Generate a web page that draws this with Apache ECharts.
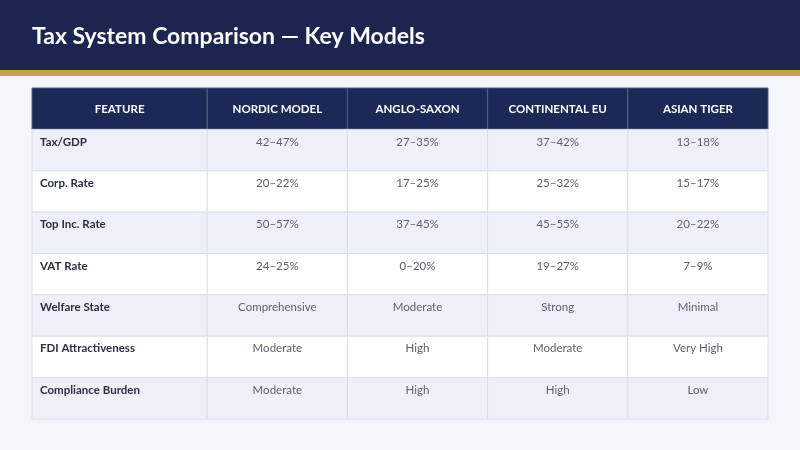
<!DOCTYPE html>
<html>
<head>
<meta charset="utf-8">
<script src="https://cdn.jsdelivr.net/npm/echarts@6/dist/echarts.min.js"></script>
<style>
  html, body { margin: 0; padding: 0; background: #f4f4fb; }
  #chart { width: 800px; height: 450px; }
</style>
</head>
<body>
<div id="chart"></div>
<script>
// table content
var columns = ['FEATURE', 'NORDIC MODEL', 'ANGLO-SAXON', 'CONTINENTAL EU', 'ASIAN TIGER'];
var features = ['Tax/GDP', 'Corp. Rate', 'Top Inc. Rate', 'VAT Rate', 'Welfare State', 'FDI Attractiveness', 'Compliance Burden'];
var nordic = ['42–47%', '20–22%', '50–57%', '24–25%', 'Comprehensive', 'Moderate', 'Moderate'];
var angloSaxon = ['27–35%', '17–25%', '37–45%', '0–20%', 'Moderate', 'High', 'High'];
var continental = ['37–42%', '25–32%', '45–55%', '19–27%', 'Strong', 'Moderate', 'High'];
var asianTiger = ['13–18%', '15–17%', '20–22%', '7–9%', 'Minimal', 'Very High', 'Low'];

var FONT = 'Lato, "Open Sans", sans-serif';
// column edges in x-axis units (first column is a bit wider)
var colEdges = [0, 1.25, 2.25, 3.25, 4.25, 5.25];

var bodyCols = [features, nordic, angloSaxon, continental, asianTiger];
var rows = ['header'].concat(features);

var cells = [];
columns.forEach(function (name, c) {
    cells.push([c, 0, name]);
});
bodyCols.forEach(function (list, c) {
    list.forEach(function (txt, r) {
        cells.push([c, r + 1, txt]);
    });
});

function renderCell(params, api) {
    var cell = cells[params.dataIndex];
    var c = cell[0], r = cell[1];
    var x0 = api.coord([colEdges[c], r])[0];
    var x1 = api.coord([colEdges[c + 1], r])[0];
    var yc = api.coord([0, r])[1];
    var h = api.size([0, 1])[1];
    var y0 = yc - h / 2;
    var isHead = r === 0;

    var fill = isHead ? '#1c2856' : (r % 2 === 1 ? '#eef0f9' : '#ffffff');
    var stroke = isHead ? '#56607f' : '#dddee7';

    var text;
    if (isHead) {
        text = {
            type: 'text',
            style: {
                x: (x0 + x1) / 2, y: yc + 1,
                text: cell[2],
                fill: '#ffffff',
                font: 'bold 11.5px ' + FONT,
                align: 'center', verticalAlign: 'middle'
            }
        };
    } else {
        text = {
            type: 'text',
            style: {
                x: c === 0 ? x0 + 8 : (x0 + x1) / 2,
                y: y0 + 6.5,
                text: cell[2],
                fill: c === 0 ? '#2b2f43' : '#5b5f6f',
                font: (c === 0 ? 'bold ' : '') + '11.5px ' + FONT,
                align: c === 0 ? 'left' : 'center',
                verticalAlign: 'top'
            }
        };
    }

    return {
        type: 'group',
        children: [
            {
                type: 'rect',
                shape: { x: x0, y: y0, width: x1 - x0, height: h },
                style: { fill: fill, stroke: stroke, lineWidth: 1 }
            },
            text
        ]
    };
}

var chart = echarts.init(document.getElementById('chart'));
chart.setOption({
    backgroundColor: '#f4f4fb',
    animation: false,
    graphic: [
        { type: 'rect', shape: { x: 0, y: 0, width: 800, height: 70 }, style: { fill: '#1b2550' }, z: -1 },
        { type: 'rect', shape: { x: 0, y: 70, width: 800, height: 6 }, style: { fill: '#c9a14b' }, z: -1 },
        {
            type: 'text', left: 32, top: 25,
            style: { text: 'Tax System Comparison — Key Models', fill: '#ffffff', font: 'bold 23px ' + FONT }
        }
    ],
    grid: { left: 32, right: 32, top: 88, bottom: 31 },
    xAxis: { type: 'value', min: 0, max: 5.25, show: false },
    yAxis: { type: 'category', data: rows, inverse: true, show: false },
    series: [{
        type: 'custom',
        renderItem: renderCell,
        encode: { x: 0, y: 1 },
        data: cells.map(function (d) { return [d[0], d[1]]; })
    }]
});
</script>
</body>
</html>
